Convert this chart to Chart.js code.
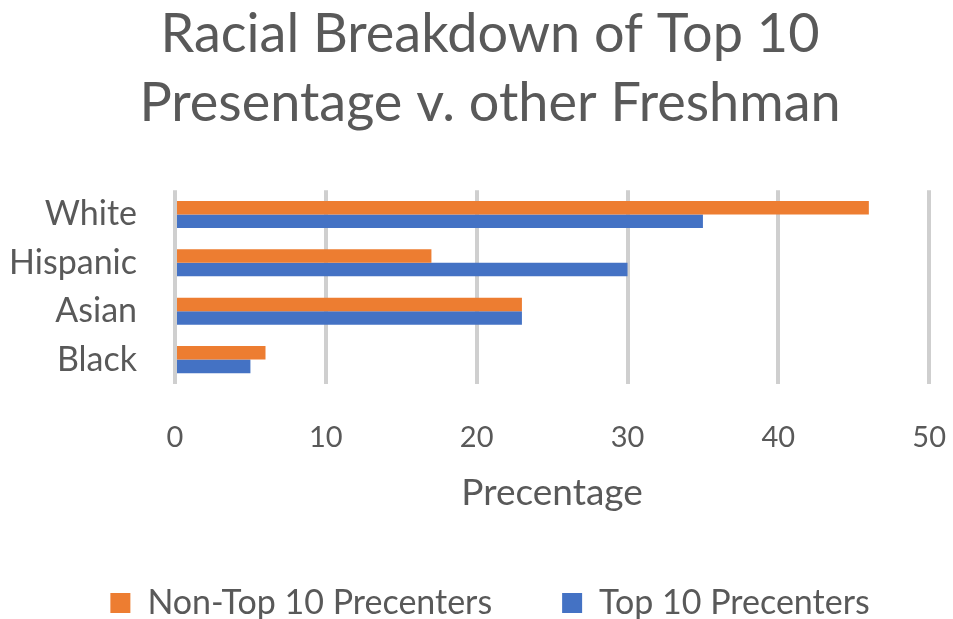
<!DOCTYPE html>
<html>
<head>
<meta charset="utf-8">
<script src="https://cdn.jsdelivr.net/npm/chart.js@4"></script>
<style>
  html, body { margin: 0; padding: 0; background: #fff; overflow: hidden; }
  #wrap { width: 970px; height: 619px; }
</style>
</head>
<body>
<div id="wrap"><canvas id="c1"></canvas></div>
<script>
const CATEGORIES = ['White', 'Hispanic', 'Asian', 'Black'];
const NON_TOP10 = [46, 17, 23, 6];
const TOP10 = [35, 30, 23, 5];
const X_TICKS = [0, 10, 20, 30, 40, 50];
const TEXT = '#595959';
const FONT = 'Lato';

const ctx = document.getElementById('c1').getContext('2d');

new Chart(ctx, {
    type: 'bar',
    data: {
        labels: CATEGORIES,
        datasets: [{
            label: 'Non-Top 10 Precenters',
            data: NON_TOP10,
            backgroundColor: '#ed7d31',
            borderColor: '#ed7d31',
            borderWidth: 0
        }, {
            label: 'Top 10 Precenters',
            data: TOP10,
            backgroundColor: '#4472c4',
            borderColor: '#4472c4',
            borderWidth: 0
        }]
    },
    options: {
        indexAxis: 'y',
        responsive: true,
        maintainAspectRatio: false,
        animation: false,
        categoryPercentage: 0.56,
        barPercentage: 1.0,
        layout: {
            padding: { left: 10, right: 0, top: 0, bottom: -11 }
        },
        scales: {
            x: {
                min: X_TICKS[0],
                max: X_TICKS[X_TICKS.length - 1],
                afterBuildTicks: (axis) => { axis.ticks = X_TICKS.map(v => ({ value: v })); },
                grid: {
                    color: '#cfcfcf',
                    lineWidth: 4,
                    drawTicks: true,
                    tickLength: 12,
                    tickColor: 'rgba(0,0,0,0)'
                },
                border: { display: false },
                ticks: {
                    color: TEXT,
                    padding: 24,
                    font: { family: FONT, size: 29 }
                },
                title: {
                    display: true,
                    text: 'Precentage',
                    color: TEXT,
                    padding: { top: -8, bottom: 1 },
                    font: { family: FONT, size: 37 }
                }
            },
            y: {
                // category labels end 38px left of the plot
                afterFit: (axis) => { axis.width = 165; },
                grid: { display: false, drawTicks: false },
                border: { display: false },
                ticks: {
                    color: TEXT,
                    padding: 38,
                    autoSkip: false,
                    font: { family: FONT, size: 34 }
                }
            }
        },
        plugins: {
            title: {
                display: true,
                text: ['Racial Breakdown of Top 10', 'Presentage v. other Freshman'],
                color: TEXT,
                padding: { top: 0, bottom: 52 },
                font: { family: FONT, size: 54, weight: 'normal', lineHeight: 1.28 }
            },
            legend: {
                position: 'bottom',
                labels: {
                    color: TEXT,
                    boxWidth: 20,
                    boxHeight: 20,
                    padding: 70,
                    font: { family: FONT, size: 34 }
                }
            },
            tooltip: { enabled: false }
        }
    }
});
</script>
</body>
</html>
